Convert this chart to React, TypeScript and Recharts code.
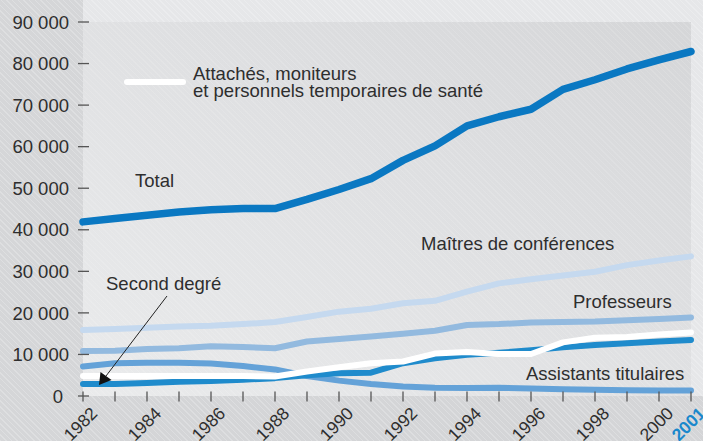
import { CartesianGrid, Line, LineChart, XAxis, YAxis } from 'recharts';

const years = [
  1982, 1983, 1984, 1985, 1986, 1987, 1988, 1989, 1990, 1991,
  1992, 1993, 1994, 1995, 1996, 1997, 1998, 1999, 2000, 2001,
];
const total = [
  41900, 42700, 43500, 44300, 44800, 45100, 45100, 47300, 49700, 52300,
  56700, 60200, 65000, 67200, 69000, 73800, 76100, 78700, 80900, 82900,
];
const maitres = [
  15900, 16100, 16400, 16700, 16900, 17300, 17800, 19000, 20300, 21000,
  22300, 22900, 25100, 27100, 28100, 29000, 29900, 31500, 32600, 33600,
];
const professeurs = [
  10800, 10900, 11300, 11500, 12000, 11800, 11500, 13100, 13700, 14300,
  15000, 15700, 17100, 17300, 17700, 17800, 17900, 18200, 18500, 18900,
];
const assistants = [
  7100, 7900, 8000, 8000, 7800, 7200, 6400, 4800, 3700, 2900,
  2300, 2000, 1900, 2000, 1800, 1600, 1500, 1400, 1300, 1300,
];
const secondDegre = [
  2900, 2900, 3100, 3400, 3600, 3900, 4300, 5000, 5500, 5600,
  7900, 9100, 9900, 10400, 11000, 11700, 12300, 12700, 13100, 13500,
];
const attaches = [
  4800, 4800, 4800, 4800, 4800, 4800, 4700, 5900, 6900, 7900,
  8300, 10200, 10600, 10100, 10100, 12900, 14000, 14200, 14800, 15300,
];
const yTicks = [0, 10000, 20000, 30000, 40000, 50000, 60000, 70000, 80000, 90000];

const data = years.map((year, i) => ({
  year,
  total: total[i],
  maitres: maitres[i],
  professeurs: professeurs[i],
  assistants: assistants[i],
  secondDegre: secondDegre[i],
  attaches: attaches[i],
}));

const FONT = '"Liberation Sans", Arial, Helvetica, sans-serif';
const TEXT = '#2e2e2e';

const fmt = (v: number) => (v === 0 ? '0' : `${v / 1000} 000`);

const YTick = ({ x, y, payload }: any) => (
  <g>
    <line x1={x - 5} x2={x + 6} y1={y} y2={y} stroke="#555" strokeWidth={1.3} />
    <text
      x={payload.value === 0 ? x - 20 : x - 14}
      y={y}
      dy="0.36em"
      textAnchor="end"
      fontSize={18.5}
      fontFamily={FONT}
      fill={TEXT}
    >
      {fmt(payload.value)}
    </text>
  </g>
);

const XTick = ({ x, y, payload }: any) => {
  const yr = payload.value as number;
  const last = yr === 2001;
  const show = yr % 2 === 0 || last;
  const tx = x + 15.5;
  const ty = y + 18.5;
  return (
    <g>
      <line x1={x} x2={x} y1={y - 4.5} y2={y + 5.5} stroke="#555" strokeWidth={1.3} />
      {show && (
        <text
          x={tx}
          y={ty}
          transform={`rotate(-45 ${tx} ${ty})`}
          textAnchor="end"
          fontSize={17.5}
          fontFamily={FONT}
          fontWeight={last ? 'bold' : 'normal'}
          fill={last ? '#1a88cc' : TEXT}
        >
          {yr}
        </text>
      )}
    </g>
  );
};

export default function App() {
  const label = { fontSize: 18.5, fontFamily: FONT, fill: TEXT };
  return (
    <div
      style={{
        position: 'absolute',
        left: 0,
        top: 0,
        width: 703,
        height: 441,
        overflow: 'hidden',
        background: [
          'repeating-linear-gradient(45deg, rgba(255,255,255,0.22) 0 1px, rgba(0,0,0,0) 1px 4px)',
          'linear-gradient(to right, #d5d6d8 0 83px, rgba(0,0,0,0) 83px)',
          'linear-gradient(to bottom, rgba(0,0,0,0) 0 396px, #d4d5d7 396px)',
          '#e6e7e9',
        ].join(', '),
      }}
    >
      <div
        style={{
          position: 'absolute',
          left: 83,
          top: 22,
          width: 608,
          height: 374,
          background: [
            'repeating-linear-gradient(45deg, rgba(255,255,255,0.12) 0 1px, rgba(0,0,0,0) 1px 4px)',
            'linear-gradient(to top right, #eaebec, #dfe0e2 55%, #d5d6d8)',
          ].join(', '),
        }}
      />
      <div style={{ position: 'absolute', left: 0, top: 0 }}>
        <LineChart
          width={703}
          height={441}
          data={data}
          margin={{ top: 22, right: 12, left: 0, bottom: 0 }}
        >
          <CartesianGrid stroke="none" fill="none" />
          <XAxis
            dataKey="year"
            axisLine={false}
            tickLine={false}
            tickSize={0}
            tickMargin={0}
            interval={0}
            height={45}
            tick={<XTick />}
          />
          <YAxis
            type="number"
            domain={[0, 90000]}
            ticks={yTicks}
            axisLine={false}
            tickLine={false}
            tickSize={0}
            tickMargin={0}
            width={83}
            tick={<YTick />}
          />
          <Line dataKey="assistants" stroke="#64a2d8" strokeWidth={6} dot={false} strokeLinecap="round" strokeLinejoin="round" isAnimationActive={false} />
          <Line dataKey="professeurs" stroke="#93badf" strokeWidth={6} dot={false} strokeLinecap="round" strokeLinejoin="round" isAnimationActive={false} />
          <Line dataKey="maitres" stroke="#c5d9ef" strokeWidth={6} dot={false} strokeLinecap="round" strokeLinejoin="round" isAnimationActive={false} />
          <Line dataKey="secondDegre" stroke="#1f8bcc" strokeWidth={6} dot={false} strokeLinecap="round" strokeLinejoin="round" isAnimationActive={false} />
          <Line dataKey="attaches" stroke="#ffffff" strokeWidth={6} dot={false} strokeLinecap="round" strokeLinejoin="round" isAnimationActive={false} />
          <Line dataKey="total" stroke="#0a78c2" strokeWidth={7.5} dot={false} strokeLinecap="round" strokeLinejoin="round" isAnimationActive={false} />
        </LineChart>
      </div>
      <svg
        width={703}
        height={441}
        style={{ position: 'absolute', left: 0, top: 0, pointerEvents: 'none' }}
      >
        <line x1={127} x2={183} y1={82} y2={82} stroke="#fff" strokeWidth={6} strokeLinecap="round" />
        <text x={193} y={80} {...label}>Attachés, moniteurs</text>
        <text x={193} y={97.3} {...label}>et personnels temporaires de santé</text>
        <text x={135} y={187} {...label}>Total</text>
        <text x={421} y={250} {...label}>Maîtres de conférences</text>
        <text x={573} y={307.5} {...label}>Professeurs</text>
        <text x={526} y={380} {...label}>Assistants titulaires</text>
        <text x={106} y={289.5} {...label}>Second degré</text>
        <line x1={167} y1={296} x2={106} y2={376} stroke="#222" strokeWidth={1} />
        <polygon points="99,385 100.5,372 111.5,380" fill="#111" />
      </svg>
    </div>
  );
}
